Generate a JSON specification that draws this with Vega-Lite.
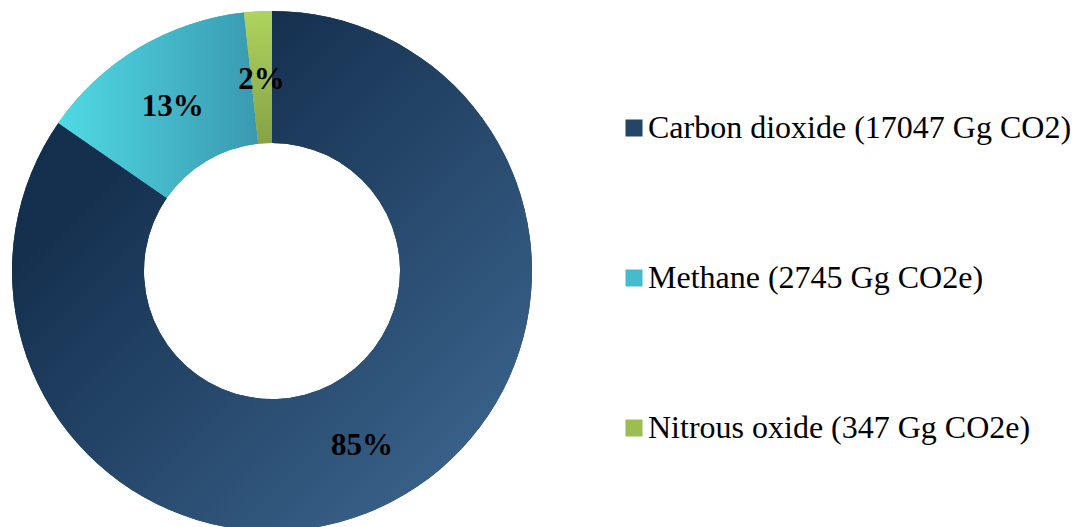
{
  "$schema": "https://vega.github.io/schema/vega-lite/v6.json",
  "width": 544,
  "height": 542,
  "padding": 0,
  "background": "white",
  "config": {"view": {"stroke": null}},
  "data": {
    "values": [
      {"gas": "Carbon dioxide (17047 Gg CO2)", "value": 17047, "pct": "85%"},
      {"gas": "Methane (2745 Gg CO2e)", "value": 2745, "pct": "13%"},
      {"gas": "Nitrous oxide (347 Gg CO2e)", "value": 347, "pct": "2%"}
    ]
  },
  "encoding": {
    "theta": {"field": "value", "type": "quantitative", "stack": true},
    "order": {"field": "gas", "type": "nominal", "sort": "ascending"}
  },
  "layer": [
    {
      "mark": {"type": "arc", "outerRadius": 260, "innerRadius": 128},
      "encoding": {
        "color": {
          "field": "gas",
          "type": "nominal",
          "scale": {"range": ["#234568", "#45bccb", "#9cbd52"]},
          "legend": {
            "title": null,
            "orient": "none",
            "legendX": 618,
            "legendY": 112,
            "direction": "vertical",
            "symbolType": "square",
            "symbolSize": 289,
            "symbolStrokeWidth": 0,
            "labelFont": "Liberation Serif",
            "labelFontSize": 32,
            "labelColor": "black",
            "labelOffset": -2,
            "labelLimit": 0,
            "rowPadding": 118,
            "encode": {
              "symbols": {
                "update": {
                  "fill": [
                    {"test": "datum.value === 'Carbon dioxide (17047 Gg CO2)'",
                     "value": {"gradient": "linear", "x1": 0, "y1": 0, "x2": 1, "y2": 1,
                               "stops": [{"offset": 0, "color": "#132c4b"}, {"offset": 1, "color": "#406b95"}]}},
                    {"test": "datum.value === 'Methane (2745 Gg CO2e)'",
                     "value": {"gradient": "linear", "x1": 0, "y1": 0, "x2": 1, "y2": 0,
                               "stops": [{"offset": 0, "color": "#50dae3"}, {"offset": 1, "color": "#3a99b1"}]}},
                    {"value": {"gradient": "linear", "x1": 0, "y1": 0, "x2": 0, "y2": 1,
                               "stops": [{"offset": 0, "color": "#afd45e"}, {"offset": 1, "color": "#86a246"}]}}
                  ]
                }
              }
            }
          }
        }
      }
    },
    {
      "mark": {"type": "arc", "outerRadius": 260, "innerRadius": 128},
      "encoding": {
        "detail": {"field": "gas", "type": "nominal"},
        "fill": {
          "condition": [
            {"test": "datum.gas === 'Carbon dioxide (17047 Gg CO2)'",
             "value": {"gradient": "linear", "x1": 0, "y1": 0, "x2": 1, "y2": 1,
                       "stops": [{"offset": 0, "color": "#132c4b"}, {"offset": 0.25, "color": "#15304f"}, {"offset": 1, "color": "#406b95"}]}},
            {"test": "datum.gas === 'Methane (2745 Gg CO2e)'",
             "value": {"gradient": "linear", "x1": 0, "y1": 0, "x2": 1, "y2": 0,
                       "stops": [{"offset": 0, "color": "#50dae3"}, {"offset": 1, "color": "#3a99b1"}]}}
          ],
          "value": {"gradient": "linear", "x1": 0, "y1": 0, "x2": 0, "y2": 1,
                    "stops": [{"offset": 0, "color": "#afd45e"}, {"offset": 1, "color": "#86a246"}]}
        }
      }
    },
    {
      "mark": {"type": "text", "radius": 194, "dy": 3, "font": "Liberation Serif", "fontSize": 31, "fontWeight": "bold", "color": "black"},
      "encoding": {
        "text": {"field": "pct", "type": "nominal"},
        "detail": {"field": "gas", "type": "nominal"}
      }
    }
  ]
}
